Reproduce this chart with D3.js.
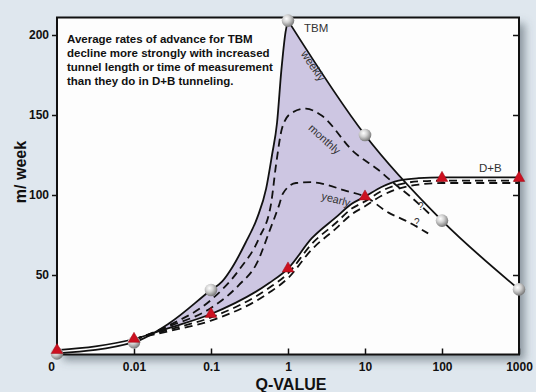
<!DOCTYPE html>
<meta charset="utf-8">

<style>
  body { margin: 0; background: #dfe7ee; }
  svg { display: block; font-family: "Liberation Sans", Arial, sans-serif; }
  .curve { fill: none; stroke: #111; stroke-width: 1.8; stroke-linejoin: round; }
  .dash { stroke-dasharray: 8,5; }
  .axis path { display: none; }
  .axis line { stroke: #111; stroke-width: 1.5; }
  .axis text { font-size: 12px; font-weight: bold; fill: #111; font-family: "Liberation Sans", Arial, sans-serif; }
  .tag { font-size: 11px; fill: #333; }
</style>

<body>
  <script src="https://d3js.org/d3.v7.min.js"></script>

  <script>
    var width = 536,
        height = 392;

    // x ticks (Q-value, log) and y ticks (m/week)
    var xTickValues = [0.001, 0.01, 0.1, 1, 10, 100, 1000];
    var xTickLabels = ["0", "0.01", "0.1", "1", "10", "100", "1000"];
    var yTickValues = [50, 100, 150, 200];

    // TBM curves
    var tbmWeeklyQ  = [0.001, 0.01, 0.029, 0.1, 0.14, 0.19, 0.28, 0.4, 0.52, 0.62, 0.72, 0.82, 0.93, 1, 10, 100, 1000];
    var tbmWeeklyV  = [1, 8, 20, 40.6, 46, 55, 70, 86, 104, 125, 145, 178, 202, 209, 137.5, 84, 41];
    var tbmMonthlyQ = [0.01, 0.029, 0.1, 0.23, 0.42, 0.6, 0.7, 0.84, 1.09, 1.71, 2.67, 7.14, 15, 23.5, 39, 73];
    var tbmMonthlyV = [9.5, 18.7, 34.4, 53, 73, 94, 119, 142, 151, 154, 150, 127, 115.6, 107.5, 99, 87];
    var tbmYearlyQ  = [0.01, 0.029, 0.1, 0.23, 0.4, 0.57, 0.77, 0.86, 1.27, 2.0, 3.39, 5.3, 10, 20.2, 33.6, 66];
    var tbmYearlyV  = [9.5, 18, 29.4, 43.7, 58, 77, 94, 101, 107.5, 108, 106, 103, 99, 89, 84, 76];

    // D+B curves
    var dbWeeklyQ  = [0.001, 0.01, 0.029, 0.1, 0.57, 1, 2.04, 4.18, 6.73, 10, 16.4, 27.3, 49.5, 100, 1000];
    var dbWeeklyV  = [3, 10, 17, 25.6, 45, 54, 73, 86, 94.5, 99, 105, 109, 110.5, 111, 111];
    var dbMonthlyQ = [0.01, 0.029, 0.1, 0.57, 1, 2.04, 4.18, 6.73, 10, 16.4, 27.3, 49.5, 100, 1000];
    var dbMonthlyV = [10, 16, 23.5, 42, 51, 69.5, 82.5, 91.5, 96, 102.5, 106.5, 108.5, 109, 109];
    var dbYearlyQ  = [0.01, 0.029, 0.1, 0.57, 1, 2.04, 4.18, 6.73, 10, 16.4, 27.3, 49.5, 100, 1000];
    var dbYearlyV  = [10, 15, 21.5, 39, 48, 66, 79, 88, 93, 99.5, 104, 106.5, 107.5, 107.5];

    // markers
    var tbmMarkerQ = [0.001, 0.01, 0.1, 1, 10, 100, 1000];
    var tbmMarkerV = [1, 8, 40.6, 209, 137.5, 84, 41];
    var dbMarkerQ  = [0.001, 0.01, 0.1, 1, 10, 100, 1000];
    var dbMarkerV  = [3, 10, 25.6, 54, 99, 110.6, 110.6];

    var noteLines = [
      "Average rates of advance for TBM",
      "decline more strongly with increased",
      "tunnel length or time of measurement",
      "than they do in D+B tunneling."
    ];

    // plot box (window.top is reserved, so keep these prefixed)
    var boxL = 57, boxR = 519, boxT = 17.5, boxB = 354.5;

    var svg = d3.select("body").append("svg")
                .attr("width", width)
                .attr("height", height);

    var defs = svg.append("defs");

    var shadow = defs.append("filter").attr("id", "shadow")
      .attr("x", "-5%").attr("y", "-5%").attr("width", "115%").attr("height", "115%");
    shadow.append("feDropShadow")
      .attr("dx", 6).attr("dy", 6).attr("stdDeviation", 4)
      .attr("flood-color", "#4a5560").attr("flood-opacity", 0.55);

    var ball = defs.append("radialGradient").attr("id", "ball")
      .attr("cx", "38%").attr("cy", "35%").attr("r", "65%");
    ball.append("stop").attr("offset", "0%").attr("stop-color", "#ffffff");
    ball.append("stop").attr("offset", "45%").attr("stop-color", "#d2d2d2");
    ball.append("stop").attr("offset", "100%").attr("stop-color", "#7c7c7c");

    var x = d3.scaleLog().domain([0.001, 1000]).range([boxL, boxR]);
    var y = d3.scaleLinear().domain([0, 211]).range([355, 17.4]);

    // white panel with drop shadow
    svg.append("rect")
       .attr("x", boxL).attr("y", boxT)
       .attr("width", boxR - boxL).attr("height", boxB - boxT)
       .attr("fill", "#fdfdfd")
       .attr("filter", "url(#shadow)");

    var pts = function(q, v) { return d3.zip(q, v); };

    var line = d3.line()
                 .x(function(d) { return x(d[0]); })
                 .y(function(d) { return y(d[1]); })
                 .curve(d3.curveMonotoneX);

    var weekly = pts(tbmWeeklyQ, tbmWeeklyV);
    var peak = d3.maxIndex(tbmWeeklyV);
    var weeklyLeft = weekly.slice(0, peak + 1),
        weeklyRight = weekly.slice(peak);

    // shaded band between TBM weekly and D+B
    var under = d3.area()
                  .x(function(d) { return x(d[0]); })
                  .y0(boxB)
                  .y1(function(d) { return y(d[1]); })
                  .curve(d3.curveMonotoneX);

    var clip = defs.append("clipPath").attr("id", "underWeekly");
    clip.append("path").attr("d", under(weeklyLeft));
    clip.append("path").attr("d", under(weeklyRight));

    var over = d3.area()
                 .x(function(d) { return x(d[0]); })
                 .y0(boxT)
                 .y1(function(d) { return y(d[1]); })
                 .curve(d3.curveMonotoneX);

    svg.append("path")
       .attr("d", over(pts(dbWeeklyQ, dbWeeklyV)))
       .attr("fill", "#cdc6e2")
       .attr("clip-path", "url(#underWeekly)");

    // curves
    svg.append("path").attr("class", "curve").attr("d", line(weeklyLeft));
    svg.append("path").attr("class", "curve").attr("d", line(weeklyRight));
    svg.append("path").attr("class", "curve dash").attr("d", line(pts(tbmMonthlyQ, tbmMonthlyV)));
    svg.append("path").attr("class", "curve dash").attr("d", line(pts(tbmYearlyQ, tbmYearlyV)));
    svg.append("path").attr("class", "curve").attr("d", line(pts(dbWeeklyQ, dbWeeklyV)));
    svg.append("path").attr("class", "curve dash").attr("d", line(pts(dbMonthlyQ, dbMonthlyV)));
    svg.append("path").attr("class", "curve dash").attr("d", line(pts(dbYearlyQ, dbYearlyV)));

    // frame
    svg.append("rect")
       .attr("x", boxL).attr("y", boxT)
       .attr("width", boxR - boxL).attr("height", boxB - boxT)
       .attr("fill", "none").attr("stroke", "#111").attr("stroke-width", 2);

    // axes
    svg.append("g").attr("class", "axis")
       .attr("transform", "translate(" + boxL + ",0)")
       .call(d3.axisLeft(y).tickValues(yTickValues).tickSize(5).tickPadding(3).tickFormat(d3.format("d")));

    svg.append("g").attr("class", "axis")
       .attr("transform", "translate(" + boxR + ",0)")
       .call(d3.axisRight(y).tickValues(yTickValues).tickSize(-6).tickFormat(""));

    svg.append("g").attr("class", "axis")
       .attr("transform", "translate(0," + boxB + ")")
       .call(d3.axisBottom(x).tickValues(xTickValues).tickSize(-6).tickPadding(8)
               .tickFormat(function(d, i) { return xTickLabels[i]; }))
       .selectAll("text")
       .attr("dx", function(d, i) { return i === 0 ? -6 : 0; });

    // markers
    svg.selectAll(".ball")
       .data(pts(tbmMarkerQ, tbmMarkerV))
       .enter().append("circle")
       .attr("class", "ball")
       .attr("cx", function(d) { return x(d[0]); })
       .attr("cy", function(d) { return y(d[1]); })
       .attr("r", 6.3)
       .attr("fill", "url(#ball)");

    svg.selectAll(".tri")
       .data(pts(dbMarkerQ, dbMarkerV))
       .enter().append("path")
       .attr("class", "tri")
       .attr("d", d3.symbol(d3.symbolTriangle, 58))
       .attr("transform", function(d) { return "translate(" + x(d[0]) + "," + y(d[1]) + ")"; })
       .attr("fill", "#cc1020")
       .attr("stroke", "#9c0a14")
       .attr("stroke-width", 0.5);

    // axis titles
    svg.append("text")
       .attr("transform", "translate(26,172) rotate(-90)")
       .attr("text-anchor", "middle")
       .style("font-size", "16px").style("font-weight", "bold").attr("fill", "#111")
       .text("m/ week");

    svg.append("text")
       .attr("x", 291).attr("y", 390)
       .attr("text-anchor", "middle")
       .style("font-size", "16px").style("font-weight", "bold").attr("fill", "#111")
       .text("Q-VALUE");

    // note
    svg.append("g").selectAll("text")
       .data(noteLines)
       .enter().append("text")
       .attr("x", 67)
       .attr("y", function(d, i) { return 43 + i * 14; })
       .style("font-size", "11.5px").style("font-weight", "bold").attr("fill", "#111")
       .text(function(d) { return d; });

    // curve tags
    svg.append("text").attr("class", "tag").attr("x", 304).attr("y", 32).style("font-size", "11.5px").attr("fill", "#222").text("TBM");
    svg.append("text").attr("class", "tag").attr("x", 479).attr("y", 172).style("font-size", "11.5px").attr("fill", "#222").text("D+B");
    svg.append("text").attr("class", "tag").attr("text-anchor", "middle")
       .attr("transform", "translate(310,68) rotate(56)").text("weekly");
    svg.append("text").attr("class", "tag").attr("text-anchor", "middle")
       .attr("transform", "translate(322,142) rotate(42)").text("monthly");
    svg.append("text").attr("class", "tag").attr("text-anchor", "middle")
       .attr("transform", "translate(335,203) rotate(15)").text("yearly");
    svg.append("text").attr("class", "tag").attr("x", 418).attr("y", 210).style("font-size", "10px").text("?");
    svg.append("text").attr("class", "tag").attr("x", 414).attr("y", 226).style("font-size", "10px").text("?");
  </script>
</body>
